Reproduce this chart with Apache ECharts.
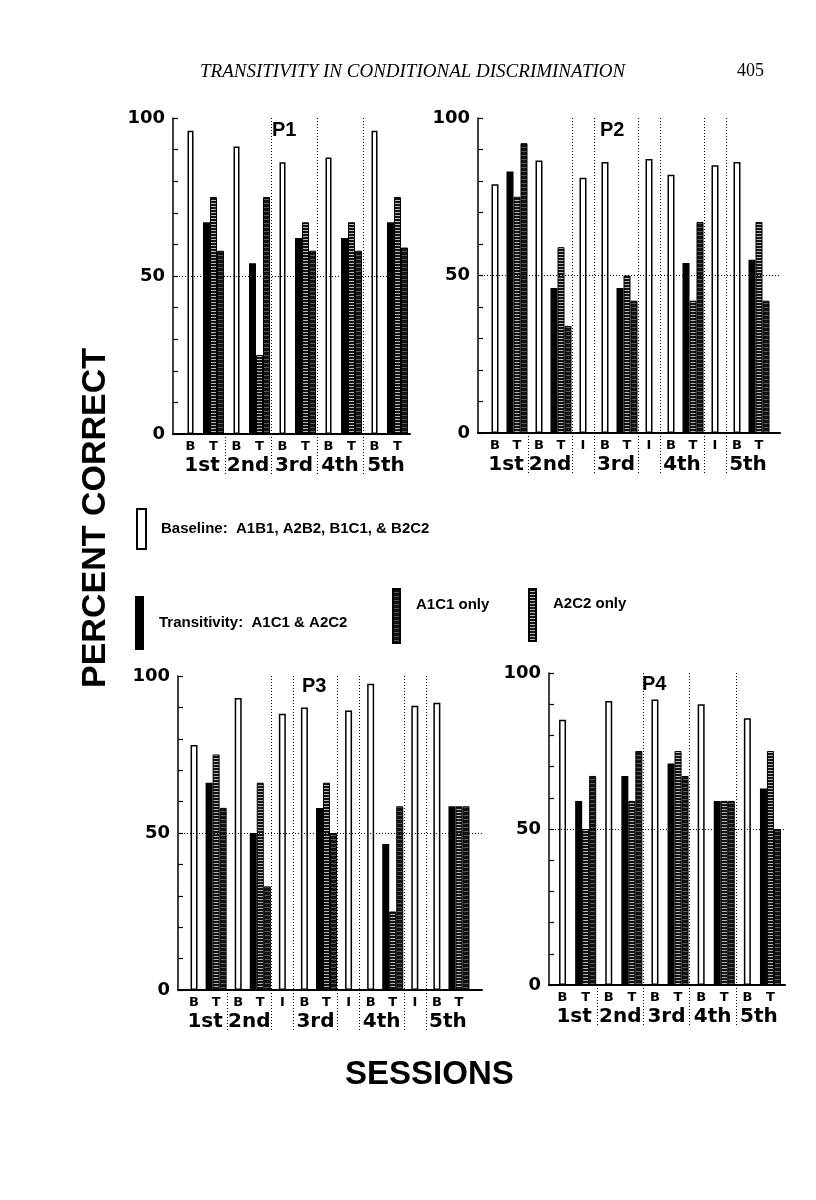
<!DOCTYPE html>
<html><head><meta charset="utf-8">
<script src="https://cdn.jsdelivr.net/npm/echarts@6/dist/echarts.min.js"></script>
<style>html,body{margin:0;padding:0;background:#fff}#c{width:816px;height:1200px}</style>
</head><body><div id="c"></div>
<script>
// ---------------- DATA ----------------
const sessionNames = ['1st', '2nd', '3rd', '4th', '5th'];
const yTickLabels = [0, 50, 100];
const chanceLevel = 50;

const p1Categories = ['B','T','B','T','B','T','B','T','B','T'];
const p1Baseline     = [96, null, 91, null, 86, null, 87.5, null, 96, null];
const p1Transitivity = [null, 67, null, 54, null, 62, null, 62, null, 67];
const p1A2C2         = [null, 75, null, 25, null, 67, null, 67, null, 75];
const p1A1C1         = [null, 58, null, 75, null, 58, null, 58, null, 59];

const p2Categories = ['B','T','B','T','I','B','T','I','B','T','I','B','T'];
const p2Baseline     = [79, null, 86.5, null, 81, 86, null, 87, 82, null, 85, 86, null];
const p2Transitivity = [null, 83, null, 46, null, null, 46, null, null, 54, null, null, 55];
const p2A2C2         = [null, 75, null, 59, null, null, 50, null, null, 42, null, null, 67];
const p2A1C1         = [null, 92, null, 34, null, null, 42, null, null, 67, null, null, 42];

const p3Categories = ['B','T','B','T','I','B','T','I','B','T','I','B','T'];
const p3Baseline     = [78, null, 93, null, 88, 90, null, 89, 97.5, null, 90.5, 91.5, null];
const p3Transitivity = [null, 66, null, 50, null, null, 58, null, null, 46.5, null, null, 58.5];
const p3A2C2         = [null, 75, null, 66, null, null, 66, null, null, 25, null, null, 58.5];
const p3A1C1         = [null, 58, null, 33, null, null, 50, null, null, 58.5, null, null, 58.5];

const p4Categories = ['B','T','B','T','B','T','B','T','B','T'];
const p4Baseline     = [85, null, 91, null, 91.5, null, 90, null, 85.5, null];
const p4Transitivity = [null, 59, null, 67, null, 71, null, 59, null, 63];
const p4A2C2         = [null, 50, null, 59, null, 75, null, 59, null, 75];
const p4A1C1         = [null, 67, null, 75, null, 67, null, 59, null, 50];

const NAME_BASE  = 'Baseline:  A1B1, A2B2, B1C1, & B2C2';
const NAME_TRANS = 'Transitivity:  A1C1 & A2C2';
const NAME_A1    = 'A1C1 only';
const NAME_A2    = 'A2C2 only';

// ---------------- STYLE / LAYOUT ----------------
function stripes(rows) {
  const c = document.createElement('canvas');
  c.width = 4; c.height = rows.length;
  const g = c.getContext('2d');
  rows.forEach((col, i) => { g.fillStyle = col; g.fillRect(0, i, 4, 1); });
  return c;
}
const patLight = { image: stripes(['#111', '#111', '#b8b8b8']), repeat: 'repeat' };
const patDark  = { image: stripes(['#111', '#111', '#111', '#5a5a5a']), repeat: 'repeat' };

const SANS = 'Liberation Sans';
const WIDE = 'DejaVu Sans';
const dotted = [1, 2];

const panels = [
  { label: 'P1', cats: p1Categories, base: p1Baseline, trans: p1Transitivity, a2: p1A2C2, a1: p1A1C1,
    grid: { left: 179, top: 118, width: 230, height: 316 }, axisGrid: { left: 173, top: 118, width: 237, height: 316 },
    baseWidth: 6, labelPos: [272, 120] },
  { label: 'P2', cats: p2Categories, base: p2Baseline, trans: p2Transitivity, a2: p2A2C2, a1: p2A1C1,
    grid: { left: 484, top: 118, width: 286, height: 315 }, axisGrid: { left: 478, top: 118, width: 302, height: 315 },
    baseWidth: 7, labelPos: [600, 120] },
  { label: 'P3', cats: p3Categories, base: p3Baseline, trans: p3Transitivity, a2: p3A2C2, a1: p3A1C1,
    grid: { left: 183, top: 676, width: 287, height: 314 }, axisGrid: { left: 178, top: 676, width: 304, height: 314 },
    baseWidth: 7, labelPos: [302, 676] },
  { label: 'P4', cats: p4Categories, base: p4Baseline, trans: p4Transitivity, a2: p4A2C2, a1: p4A1C1,
    grid: { left: 551, top: 673, width: 231, height: 312 }, axisGrid: { left: 549, top: 673, width: 236, height: 312 },
    baseWidth: 7, labelPos: [642, 674] }
];

const grid = [], xAxis = [], yAxis = [], series = [], title = [];

panels.forEach(p => {
  const gA = grid.length; grid.push(p.grid);
  const gB = grid.length; grid.push(p.axisGrid);
  const n = p.cats.length;

  // session label centres and separators derived from the categories
  const sessionCentres = [], sessionMap = {}, separators = [];
  let k = 0;
  p.cats.forEach((c, i) => {
    if (c === 'B' && p.cats[i + 1] === 'T') { sessionCentres.push(i + 1); sessionMap[i + 1] = sessionNames[k++]; }
    if (i > 0 && c !== 'T') separators.push(i);
  });

  const xCat = xAxis.length;
  xAxis.push({
    type: 'category', gridIndex: gA, position: 'bottom', data: p.cats,
    axisLine: { show: false }, axisTick: { show: false },
    axisLabel: { interval: 0, margin: 6, fontFamily: WIDE, fontWeight: 'bold', fontSize: 13, color: '#000' },
    splitLine: { show: true, showMinLine: false, showMaxLine: false,
      interval: (idx) => separators.indexOf(idx) >= 0,
      lineStyle: { color: '#000', width: 1, type: dotted } }
  });
  const xCat2 = xAxis.length;
  xAxis.push({ type: 'category', gridIndex: gA, position: 'bottom', data: p.cats, show: false });
  const xVal = xAxis.length;
  xAxis.push({
    type: 'value', gridIndex: gA, position: 'bottom', min: 0, max: n,
    axisLine: { show: false }, splitLine: { show: false },
    axisTick: { show: true, inside: false, length: 42, customValues: separators,
      lineStyle: { color: '#000', width: 1, type: dotted } },
    axisLabel: { show: true, customValues: sessionCentres, margin: 22,
      formatter: v => sessionMap[v] || '',
      fontFamily: WIDE, fontWeight: 'bold', fontSize: 20, color: '#000' }
  });
  const xB = xAxis.length;
  xAxis.push({
    type: 'value', gridIndex: gB, position: 'bottom', min: 0, max: 1,
    axisLine: { show: true, onZero: false, lineStyle: { color: '#000', width: 2 } },
    axisTick: { show: false }, axisLabel: { show: false }, splitLine: { show: false }
  });

  const yA = yAxis.length;
  yAxis.push({ type: 'value', gridIndex: gA, min: 0, max: 100, show: false });
  const yB = yAxis.length;
  yAxis.push({
    type: 'value', gridIndex: gB, min: 0, max: 100, interval: 10,
    axisLine: { show: true, lineStyle: { color: '#000', width: 1.5 } },
    axisTick: { show: true, inside: true, length: 5, lineStyle: { color: '#000', width: 1.2 } },
    axisLabel: { customValues: yTickLabels, margin: 8, fontFamily: WIDE, fontWeight: 'bold', fontSize: 18, color: '#000' },
    splitLine: { show: false }
  });

  series.push({
    type: 'bar', name: NAME_BASE, xAxisIndex: xCat, yAxisIndex: yA, data: p.base,
    barWidth: p.baseWidth, itemStyle: { color: '#fff', borderColor: '#000', borderWidth: 1.5 }
  });
  series.push({
    type: 'bar', name: NAME_TRANS, xAxisIndex: xCat2, yAxisIndex: yA, data: p.trans,
    barWidth: 7, barGap: '0%', itemStyle: { color: '#000' }
  });
  series.push({
    type: 'bar', name: NAME_A2, xAxisIndex: xCat2, yAxisIndex: yA, data: p.a2,
    barWidth: 7, barGap: '0%', itemStyle: { color: patLight, borderColor: '#000', borderWidth: 1 }
  });
  series.push({
    type: 'bar', name: NAME_A1, xAxisIndex: xCat2, yAxisIndex: yA, data: p.a1,
    barWidth: 7, barGap: '0%', itemStyle: { color: patDark, borderColor: '#000', borderWidth: 1 }
  });
  series.push({
    type: 'line', xAxisIndex: xB, yAxisIndex: yB, data: [], silent: true,
    markLine: { silent: true, symbol: ['none', 'none'], label: { show: false },
      lineStyle: { color: '#000', width: 1, type: dotted }, data: [{ yAxis: chanceLevel }] }
  });

  title.push({ text: p.label, left: p.labelPos[0], top: p.labelPos[1], padding: 0,
    textStyle: { fontFamily: SANS, fontWeight: 'bold', fontSize: 20, color: '#000' } });
});

title.push({ text: 'TRANSITIVITY IN CONDITIONAL DISCRIMINATION', left: 200, top: 62, padding: 0,
  textStyle: { fontFamily: 'Liberation Serif', fontStyle: 'italic', fontWeight: 'normal', fontSize: 19, color: '#000' } });
title.push({ text: '405', left: 737, top: 62, padding: 0,
  textStyle: { fontFamily: 'Liberation Serif', fontWeight: 'normal', fontSize: 18, color: '#000' } });
title.push({ text: 'SESSIONS', left: 345, top: 1058, padding: 0,
  textStyle: { fontFamily: SANS, fontWeight: 'bold', fontSize: 33, color: '#000' } });

function mkLegend(name, left, top, w, h, padLeft, liftUp) {
  const fmt = liftUp ? (nm => nm + '\n ') : (nm => nm);
  return { data: [name], left, top, itemWidth: w, itemHeight: h, icon: 'rect', selectedMode: false, padding: 0,
    formatter: fmt,
    textStyle: { fontFamily: SANS, fontWeight: 'bold', fontSize: 15, color: '#000',
      lineHeight: liftUp ? liftUp : 18, padding: [0, 0, 0, padLeft] } };
}

const option = {
  animation: false,
  backgroundColor: '#fff',
  title, grid, xAxis, yAxis, series,
  legend: [
    mkLegend(NAME_BASE, 136, 508, 9, 40, 10, 0),
    mkLegend(NAME_TRANS, 135, 596, 9, 54, 10, 0),
    mkLegend(NAME_A1, 392, 588, 7, 54, 11, 22),
    mkLegend(NAME_A2, 528, 588, 7, 52, 12, 22)
  ],
  graphic: [{
    type: 'text', x: 96, y: 518, rotation: Math.PI / 2,
    style: { text: 'PERCENT CORRECT', fontFamily: SANS, fontWeight: 'bold', fontSize: 34, fill: '#000',
      align: 'center', verticalAlign: 'middle' }
  }]
};

const chart = echarts.init(document.getElementById('c'), null, { renderer: 'canvas', width: 816, height: 1200 });
chart.setOption(option);
</script>
</body></html>
